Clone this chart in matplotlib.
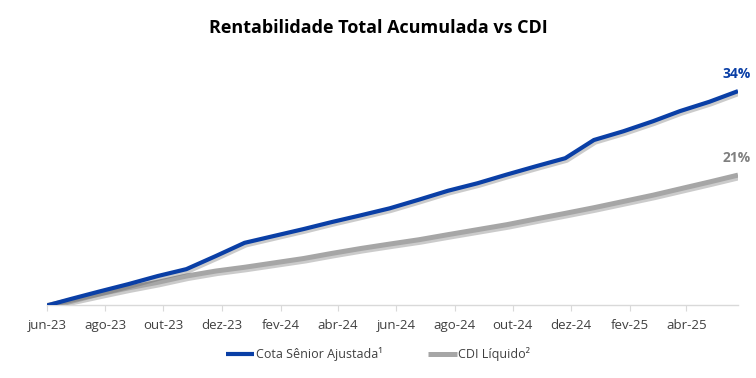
import matplotlib
matplotlib.use('Agg')
import matplotlib.pyplot as plt
import matplotlib.dates as mdates
import matplotlib.patheffects as pe
import pandas as pd

# monthly observations (first point = start of the series)
dates = pd.to_datetime(['2023-06-01'] + [
    '2023-06-25', '2023-07-25', '2023-08-25', '2023-09-25', '2023-10-25', '2023-11-25',
    '2023-12-25', '2024-01-25', '2024-02-25', '2024-03-25', '2024-04-25', '2024-05-25',
    '2024-06-25', '2024-07-25', '2024-08-25', '2024-09-25', '2024-10-25', '2024-11-25',
    '2024-12-25', '2025-01-25', '2025-02-25', '2025-03-25', '2025-04-25', '2025-05-25',
])
cota_senior = [0.0, 1.0, 2.2, 3.4, 4.7, 5.8, 7.9, 10.0, 11.1, 12.2, 13.3, 14.4, 15.5,
               16.9, 18.3, 19.5, 20.9, 22.2, 23.5, 26.4, 27.8, 29.4, 31.0, 32.5, 34.2]
cdi_liquido = [0.0, 0.8, 1.8, 2.8, 3.7, 4.7, 5.5, 6.1, 6.8, 7.5, 8.3, 9.1, 9.8,
               10.5, 11.3, 12.1, 12.9, 13.8, 14.7, 15.6, 16.6, 17.6, 18.6, 19.7, 20.8]

series_names = ['Cota Sênior Ajustada¹', 'CDI Líquido²']
end_labels = ['34%', '21%']
tick_dates = pd.date_range('2023-06-01', '2025-04-01', freq='2MS')
meses = ['jan', 'fev', 'mar', 'abr', 'mai', 'jun', 'jul', 'ago', 'set', 'out', 'nov', 'dez']

BLUE = '#0A3FA6'
GRAY = '#A6A6A6'

plt.rcParams['font.family'] = ['Open Sans', 'DejaVu Sans']

fig = plt.figure(figsize=(7.56, 3.78), dpi=100)
ax = fig.add_axes([0.0622, 0.1918, 0.914, 0.597])

shadow = [pe.SimpleLineShadow(offset=(1.2, -1.8), shadow_color='#555555', alpha=0.3),
          pe.Normal()]
ax.plot(dates, cdi_liquido, color=GRAY, lw=3.6, label=series_names[1],
        path_effects=shadow, solid_capstyle='butt', zorder=2)
ax.plot(dates, cota_senior, color=BLUE, lw=3.0, label=series_names[0],
        path_effects=shadow, solid_capstyle='butt', zorder=3)

for vals, txt, col in [(cota_senior, end_labels[0], BLUE), (cdi_liquido, end_labels[1], '#808080')]:
    ax.annotate(txt, xy=(dates[-1], vals[-1]), xytext=(13, 17), textcoords='offset pixels',
                ha='right', va='center', fontsize=10, fontweight='bold', color=col,
                annotation_clip=False)

ax.set_xlim(dates[0], dates[-1])
ax.set_ylim(0, 36)
ax.set_xticks(tick_dates)
ax.set_xticklabels([f'{meses[d.month - 1]}-{d.year % 100:02d}' for d in tick_dates])
ax.tick_params(axis='x', length=4, color='#D9D9D9', labelsize=9.5, labelcolor='#404040', pad=6)
ax.set_yticks([])
for side in ['top', 'right', 'left']:
    ax.spines[side].set_visible(False)
ax.spines['bottom'].set_color('#D9D9D9')
ax.spines['bottom'].set_linewidth(1.0)

fig.text(0.5, 0.925, 'Rentabilidade Total Acumulada vs CDI', ha='center', va='center',
         fontsize=13, fontweight='bold', color='black')

handles, labels = ax.get_legend_handles_labels()
leg = fig.legend(handles[::-1], labels[::-1], loc='center', bbox_to_anchor=(0.5, 0.063),
                 ncol=2, frameon=False, fontsize=9, handlelength=2.3, handletextpad=0.1,
                 columnspacing=3.7)
for t in leg.get_texts():
    t.set_color('#404040')
for line in leg.get_lines():
    line.set_path_effects([])

fig.savefig('out.png', dpi=100)
